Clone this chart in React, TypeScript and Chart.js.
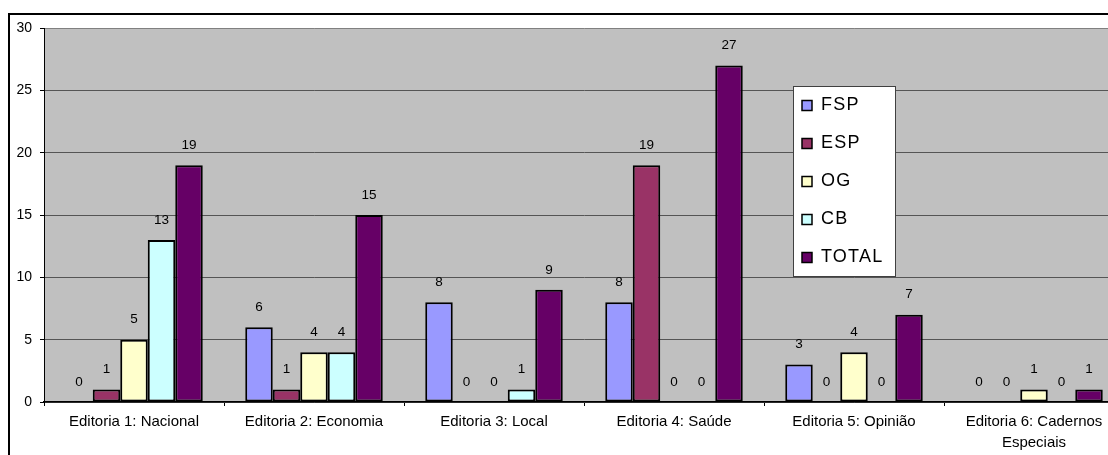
import React, { useEffect, useRef } from "react";
import { Chart, registerables } from "chart.js";

Chart.register(...registerables);

const categories: (string | string[])[] = [
  "Editoria 1: Nacional",
  "Editoria 2: Economia",
  "Editoria 3: Local",
  "Editoria 4: Saúde",
  "Editoria 5: Opinião",
  ["Editoria 6: Cadernos", "Especiais"],
];
const seriesNames = ["FSP", "ESP", "OG", "CB", "TOTAL"];
const fsp = [0, 6, 8, 8, 3, 0];
const esp = [1, 1, 0, 19, 0, 0];
const og = [5, 4, 0, 0, 4, 1];
const cb = [13, 4, 1, 0, 0, 0];
const total = [19, 15, 9, 27, 7, 1];
const seriesColors = ["#9999FF", "#993366", "#FFFFCC", "#CCFFFF", "#660066"];
const yTicks = [0, 5, 10, 15, 20, 25, 30];

const FONT = "'Liberation Sans', Arial, sans-serif";
const CANVAS_W = 1140;
const CANVAS_H = 455;

const framePlugin = {
  id: "frame",
  beforeDraw(chart: any) {
    const { ctx, chartArea } = chart;
    ctx.save();
    ctx.fillStyle = "#ffffff";
    ctx.fillRect(0, 0, chart.width, chart.height);
    ctx.strokeStyle = "#000000";
    ctx.lineWidth = 2;
    ctx.strokeRect(9, 14, 3000, 3000);
    ctx.fillStyle = "#C0C0C0";
    ctx.fillRect(
      chartArea.left,
      chartArea.top,
      chartArea.right - chartArea.left,
      chartArea.bottom - chartArea.top
    );
    ctx.restore();
  },
};

const valueLabelPlugin = {
  id: "valueLabels",
  afterDatasetsDraw(chart: any) {
    const { ctx } = chart;
    ctx.save();
    ctx.font = `13.5px ${FONT}`;
    ctx.fillStyle = "#000";
    ctx.textAlign = "center";
    ctx.textBaseline = "middle";
    chart.data.datasets.forEach((ds: any, i: number) => {
      const meta = chart.getDatasetMeta(i);
      meta.data.forEach((el: any, j: number) => {
        ctx.fillText(String(ds.data[j]), el.x, el.y - 20);
      });
    });
    ctx.restore();
  },
};

const legendPlugin = {
  id: "boxLegend",
  afterDraw(chart: any) {
    const { ctx } = chart;
    const x = 793;
    const y = 86;
    const w = 102;
    const h = 190;
    ctx.save();
    ctx.fillStyle = "#fff";
    ctx.fillRect(x, y, w, h);
    ctx.strokeStyle = "#404040";
    ctx.lineWidth = 1;
    ctx.strokeRect(x + 0.5, y + 0.5, w, h);
    ctx.font = `18px ${FONT}`;
    try {
      (ctx as any).letterSpacing = "1.2px";
    } catch (e) {}
    ctx.textBaseline = "middle";
    ctx.textAlign = "left";
    chart.data.datasets.forEach((ds: any, i: number) => {
      const cy = 105.5 + i * 38;
      ctx.fillStyle = ds.backgroundColor;
      ctx.fillRect(802, cy - 5, 10, 10);
      ctx.strokeStyle = "#000";
      ctx.lineWidth = 1.5;
      ctx.strokeRect(802, cy - 5, 10, 10);
      ctx.fillStyle = "#000";
      ctx.fillText(ds.label, 821, cy);
    });
    ctx.restore();
  },
};

export default function App() {
  const ref = useRef<HTMLCanvasElement | null>(null);

  useEffect(() => {
    if (!ref.current) return;
    const seriesData = [fsp, esp, og, cb, total];
    const chart = new Chart(ref.current, {
      type: "bar",
      data: {
        labels: categories as any,
        datasets: seriesNames.map((name, i) => ({
          label: name,
          data: seriesData[i],
          backgroundColor: seriesColors[i],
          borderColor: "#000",
          borderWidth: (c: any) => (c.raw === 0 ? 0 : 2),
          borderSkipped: false,
          categoryPercentage: 0.764,
          barPercentage: 1,
        })),
      },
      options: {
        responsive: false,
        animation: false,
        devicePixelRatio: 1,
        layout: { padding: { top: 28, left: 0, right: CANVAS_W - 1124, bottom: 0 } },
        plugins: {
          legend: { display: false },
          tooltip: { enabled: false },
        },
        scales: {
          x: {
            afterFit: (s: any) => {
              s.height = CANVAS_H - 402;
            },
            grid: {
              offset: true,
              drawOnChartArea: false,
              drawTicks: true,
              tickLength: 4,
              tickColor: "#000",
            },
            border: { color: "#000", width: 1.5 },
            ticks: {
              color: "#000",
              padding: 6,
              maxRotation: 0,
              autoSkip: false,
              font: { family: FONT, size: 15, lineHeight: 1.35 },
            },
          },
          y: {
            min: 0,
            max: 30,
            afterFit: (s: any) => {
              s.width = 44;
            },
            afterBuildTicks: (s: any) => {
              s.ticks = yTicks.map((v) => ({ value: v }));
            },
            grid: {
              color: (c: any) => (c.tick && c.tick.value === 30 ? "#808080" : "#555555"),
              tickColor: "#000",
              tickLength: 4,
              lineWidth: 1,
            },
            border: { color: "#000", width: 1 },
            ticks: {
              color: "#000",
              padding: 8,
              font: { family: FONT, size: 14 },
            },
          },
        },
      },
      plugins: [framePlugin, valueLabelPlugin, legendPlugin],
    });
    return () => chart.destroy();
  }, []);

  return (
    <div
      style={{
        position: "fixed",
        left: 0,
        top: 0,
        width: 1108,
        height: 455,
        overflow: "hidden",
        background: "#fff",
      }}
    >
      <canvas
        ref={ref}
        width={CANVAS_W}
        height={CANVAS_H}
        style={{ display: "block", width: CANVAS_W, height: CANVAS_H }}
      />
    </div>
  );
}
